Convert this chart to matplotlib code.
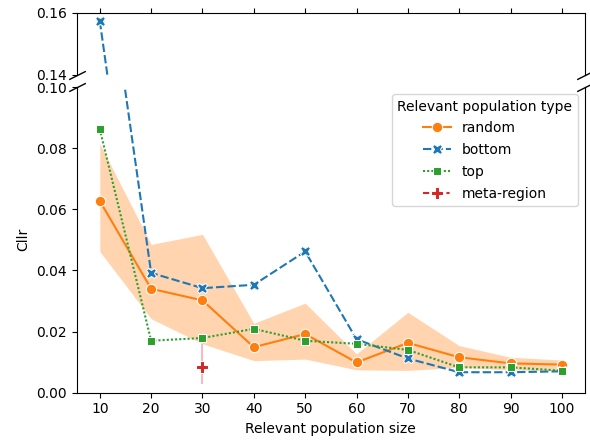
import matplotlib
matplotlib.use("Agg")
import matplotlib.pyplot as plt
from matplotlib.lines import Line2D

# ---- data ----
sizes = [10, 20, 30, 40, 50, 60, 70, 80, 90, 100]
random_vals = [0.0627, 0.0340, 0.0302, 0.0149, 0.0192, 0.0099, 0.0163, 0.0116, 0.0096, 0.0092]
random_lo = [0.0462, 0.0242, 0.0160, 0.0105, 0.0110, 0.0075, 0.0073, 0.0083, 0.0075, 0.0072]
random_hi = [0.0815, 0.0485, 0.0518, 0.0227, 0.0293, 0.0127, 0.0263, 0.0154, 0.0116, 0.0107]
bottom_vals = [0.1574, 0.0392, 0.0342, 0.0353, 0.0462, 0.0175, 0.0112, 0.0067, 0.0067, 0.0070]
top_vals = [0.0862, 0.0170, 0.0179, 0.0209, 0.0170, 0.0160, 0.0140, 0.0083, 0.0083, 0.0072]
meta_sizes = [30]
meta_vals = [0.0085]
meta_lo = [0.0028]
meta_hi = [0.0160]

series_names = ["random", "bottom", "top", "meta-region"]
colors = {"random": "#ff7f0e", "bottom": "#1f77b4", "top": "#2ca02c", "meta-region": "#d62728"}
markers = {"random": "o", "bottom": "X", "top": "s", "meta-region": "P"}
dashes = {"random": (None, None), "bottom": (4, 1.5), "top": (1, 1), "meta-region": (3, 1.25, 1.5, 1.25)}
msizes = {"random": 7.5, "bottom": 7.5, "top": 6.0, "meta-region": 8.0}

fig = plt.figure(figsize=(5.9, 4.43), dpi=100)
ax_top = fig.add_axes([0.130, 0.831, 0.8615, 0.1397])
ax_bot = fig.add_axes([0.130, 0.1135, 0.8615, 0.6901])

data = {
    "random": (sizes, random_vals),
    "bottom": (sizes, bottom_vals),
    "top": (sizes, top_vals),
    "meta-region": (meta_sizes, meta_vals),
}

def style_line(line, name):
    if name != "random":
        line.set_dashes(dashes[name])

for ax in (ax_top, ax_bot):
    ax.fill_between(sizes, random_lo, random_hi, color=colors["random"], alpha=0.33, linewidth=0)
    ax.vlines(meta_sizes, meta_lo, meta_hi, color=colors["meta-region"], alpha=0.3, linewidth=1.5)
    for name in series_names:
        xs, ys = data[name]
        ln, = ax.plot(xs, ys, color=colors[name], marker=markers[name], markersize=msizes[name],
                      markeredgecolor="white", markeredgewidth=0.75, linewidth=1.5)
        style_line(ln, name)

ax_top.set_ylim(0.14, 0.16)
ax_bot.set_ylim(0.0, 0.10)
for ax in (ax_top, ax_bot):
    ax.set_xlim(5.5, 104.5)
    ax.set_xticks(sizes)

ax_top.set_yticks([0.14, 0.16])
ax_top.set_yticklabels(["0.14", "0.16"])
ax_bot.set_yticks([0.0, 0.02, 0.04, 0.06, 0.08, 0.10])
ax_bot.set_yticklabels(["0.00", "0.02", "0.04", "0.06", "0.08", "0.10"])

ax_top.spines["bottom"].set_visible(False)
ax_bot.spines["top"].set_visible(False)
ax_top.xaxis.tick_top()
ax_top.tick_params(labeltop=False)
ax_bot.xaxis.tick_bottom()

d = 0.5
kw = dict(marker=[(-1, -d), (1, d)], markersize=12, linestyle="none", color="k",
          mec="k", mew=1, clip_on=False)
ax_top.plot([0, 1], [0, 0], transform=ax_top.transAxes, **kw)
ax_bot.plot([0, 1], [1, 1], transform=ax_bot.transAxes, **kw)

ax_bot.set_xlabel("Relevant population size")
ax_bot.set_ylabel("Cllr")

handles = []
for name in series_names:
    h = Line2D([], [], color=colors[name], marker=markers[name], markersize=msizes[name],
               markeredgecolor="white", markeredgewidth=0.75, linewidth=1.5)
    if name != "random":
        h.set_dashes(dashes[name])
    handles.append(h)
ax_bot.legend(handles, series_names, title="Relevant population type", loc="upper right",
              labelspacing=0.56)

fig.savefig("out.png", dpi=100)
